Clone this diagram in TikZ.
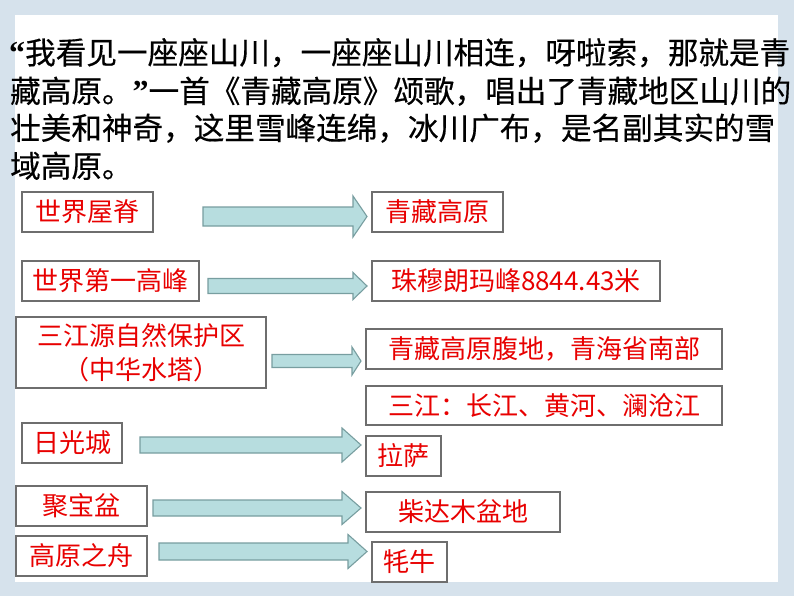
\documentclass[tikz,border=0pt]{standalone}
\usepackage{fontspec}
\newfontfamily\cjk{Noto Sans CJK SC}
\newfontfamily\cjkb[FakeBold=0.4]{Noto Sans CJK SC}
\newfontfamily\latq{Liberation Serif}
\definecolor{bgc}{RGB}{214,226,236}
\definecolor{redtxt}{RGB}{232,0,0}
\definecolor{boxline}{RGB}{110,110,110}
\definecolor{arrfill}{RGB}{183,221,223}
\definecolor{arrline}{RGB}{120,158,160}
\tikzset{
  para/.style={anchor=base west, inner sep=0pt, font=\cjkb\fontsize{30.6}{36}\selectfont, text=black},
  redbox/.style={draw=boxline, line width=1.1pt, fill=white, inner sep=0pt,
     font=\cjk\fontsize{26}{34}\selectfont, text=redtxt, align=center},
  blockarr/.style={fill=arrfill, draw=arrline, line width=1.1pt, line join=miter}
}
\newcommand\myleftq{{\latq\bfseries\fontsize{32}{32}\selectfont “}}
\newcommand\myrightq{{\latq\bfseries\fontsize{32}{32}\selectfont ”}}
% #1 start x, #2 head base x, #3 tip x, #4 center y, #5 shaft half, #6 head half
\newcommand\myblockarrow[6]{%
  \draw[blockarr] (#1,#4-#5) -- (#2,#4-#5) -- (#2,#4-#6) -- (#3,#4) -- (#2,#4+#6)
     -- (#2,#4+#5) -- (#1,#4+#5) -- cycle;}
\newcommand\mybox[5]{% name, x1, y1, x2, y2, text
  \node[redbox, minimum width=#4pt-#2pt, minimum height=#5pt-#3pt] (#1) at ({(#2+#4)/2},{(#3+#5)/2})}
\begin{document}
\begin{tikzpicture}[x=1pt,y=-1pt]
\useasboundingbox (0,0) rectangle (794,596);
\fill[bgc] (0,0) rectangle (794,596);
\fill[white] (15,15) rectangle (778,582);

\node[para] (l1) at (9,64) {\myleftq 我看见一座座山川，一座座山川相连，呀啦索，那就是青};
\node[para] (l2) at (10,102.5) {藏高原。\myrightq 一首《青藏高原》颂歌，唱出了青藏地区山川的};
\node[para] (l3) at (10,139.5) {壮美和神奇，这里雪峰连绵，冰川广布，是名副其实的雪};
\node[para] (l4) at (10,177.5) {域高原。};

\mybox{a1}{22}{192}{153}{232} {世界屋脊};
\mybox{a2}{22}{261}{199}{301} {世界第一高峰};
\mybox{a3}{16}{317}{266}{388} {三江源自然保护区\\（中华水塔）};
\mybox{a4}{22}{423}{122}{463} {日光城};
\mybox{a5}{16}{486}{147}{526} {聚宝盆};
\mybox{a6}{16}{536}{147}{576} {高原之舟};

\mybox{b1}{372}{192}{503}{232} {青藏高原};
\mybox{b2}{372}{261}{660}{301} {珠穆朗玛峰8844.43米};
\mybox{b3}{366}{329}{722}{369} {青藏高原腹地，青海省南部};
\mybox{b3b}{366}{386}{722}{425} {三江：长江、黄河、澜沧江};
\mybox{b4}{366}{436}{441}{476} {拉萨};
\mybox{b5}{366}{492}{560}{532} {柴达木盆地};
\mybox{b6}{372}{542}{447}{582} {牦牛};

\myblockarrow{203}{353}{367}{216.5}{9.5}{20.5}
\myblockarrow{208}{353}{367}{286}{7.5}{13.5}
\myblockarrow{272}{352}{361}{361}{6.5}{14}
\myblockarrow{140}{342}{361}{445}{8}{17}
\myblockarrow{153}{342}{361}{508}{8}{16.5}
\myblockarrow{159}{348}{367}{551.5}{8.5}{17}
\end{tikzpicture}
\end{document}
